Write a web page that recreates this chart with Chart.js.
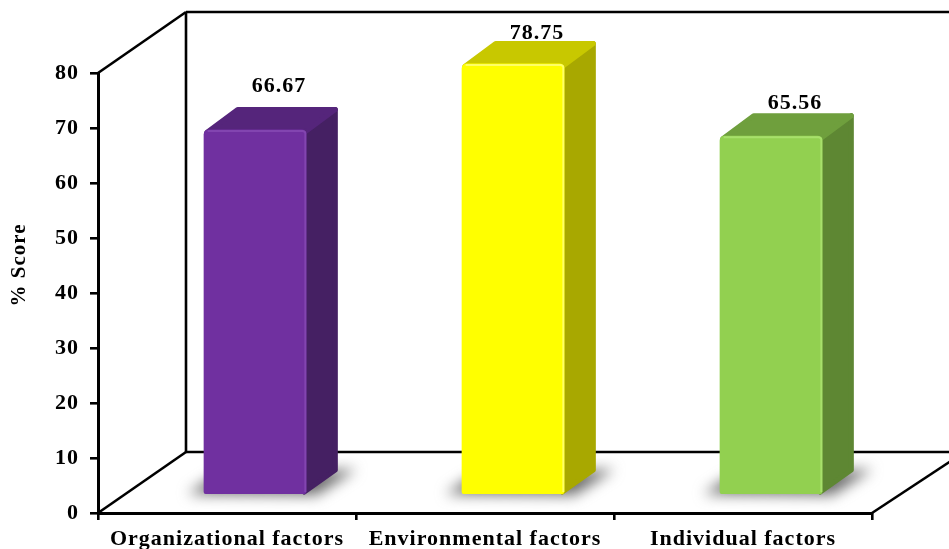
<!DOCTYPE html>
<html>
<head>
<meta charset="utf-8">
<style>
  html, body { margin: 0; padding: 0; background: #fff; }
  #wrap { width: 949px; height: 549px; }
</style>
<script src="https://cdn.jsdelivr.net/npm/chart.js@4"></script>
</head>
<body>
<div id="wrap"><canvas id="scoreChart" width="949" height="549"></canvas></div>
<script>
const categories = ['Organizational factors', 'Environmental factors', 'Individual factors'];
const scores = [66.67, 78.75, 65.56];
const scoreLabels = ['66.67', '78.75', '65.56'];
const yTicks = [0, 10, 20, 30, 40, 50, 60, 70, 80];
const frontColors = ['#7030a0', '#ffff00', '#92d050'];
const topColors = ['#55257b', '#c8c800', '#6f9f3d'];
const sideColors = ['#452063', '#a8a800', '#5e8733'];
const edgeColors = ['#8245b0', '#ffff66', '#a8e06c'];

// the walls of the 3d box
const wallX = 88, wallY = -61;
// bars stand part way into the box
const barShiftX = 28, barShiftY = -19;
const faceX = 32, faceY = -23;
const labelShiftX = 24, labelLift = [20, 7, 9];
const fontName = '"Liberation Serif", serif';

function line(ctx, x1, y1, x2, y2) {
  ctx.beginPath();
  ctx.moveTo(x1, y1);
  ctx.lineTo(x2, y2);
  ctx.stroke();
}

function poly(ctx, pts, color) {
  ctx.beginPath();
  pts.forEach((p, i) => i ? ctx.lineTo(p[0], p[1]) : ctx.moveTo(p[0], p[1]));
  ctx.closePath();
  ctx.fillStyle = color;
  ctx.strokeStyle = color;
  ctx.lineWidth = 5;
  ctx.lineJoin = 'round';
  ctx.fill();
  ctx.stroke();
}

const box3d = {
  id: 'box3d',
  beforeDraw(chart) {
    // the reference text runs a bit wide
    chart.ctx.letterSpacing = '1px';
  },
  beforeDatasetsDraw(chart) {
    const ctx = chart.ctx, a = chart.chartArea;
    const W = chart.width;
    const backX = a.left + wallX, backTop = a.top + wallY, backBottom = a.bottom + wallY;

    ctx.save();
    ctx.strokeStyle = '#000';
    ctx.lineWidth = 2.6;
    line(ctx, a.left, a.top, backX, backTop);
    line(ctx, a.left, a.bottom, backX, backBottom);
    line(ctx, backX, backTop, backX, backBottom);
    line(ctx, backX, backTop, W, backTop);
    line(ctx, backX, backBottom, W, backBottom);
    line(ctx, a.right, a.bottom, a.right + wallX, backBottom + 3);
    ctx.restore();

    // y axis title
    ctx.save();
    ctx.translate(20, 265);
    ctx.rotate(-Math.PI / 2);
    ctx.fillStyle = '#000';
    ctx.font = 'bold 21px ' + fontName;
    ctx.textAlign = 'center';
    ctx.textBaseline = 'middle';
    ctx.fillText('% Score', 0, 0);
    ctx.restore();

    const bars = chart.getDatasetMeta(0).data;

    // labels go first, the tall bar covers the foot of its label
    ctx.save();
    ctx.fillStyle = '#000';
    ctx.font = 'bold 22px ' + fontName;
    ctx.textAlign = 'center';
    ctx.textBaseline = 'middle';
    bars.forEach((b, i) => {
      ctx.fillText(scoreLabels[i], b.x + barShiftX + labelShiftX, b.y + barShiftY + faceY - labelLift[i]);
    });
    ctx.restore();

    bars.forEach((b, i) => {
      const l = b.x - b.width / 2 + barShiftX, r = b.x + b.width / 2 + barShiftX;
      const t = b.y + barShiftY, f = b.base + barShiftY;

      // floor shadow
      ctx.save();
      ctx.filter = 'blur(7px)';
      ctx.beginPath();
      ctx.moveTo(l - 16, f);
      ctx.lineTo(l + 8, f - 16);
      ctx.lineTo(r + faceX + 18, f + faceY - 2);
      ctx.lineTo(r + 10, f + 1);
      ctx.closePath();
      ctx.fillStyle = '#6a6a6a';
      ctx.fill();
      ctx.restore();

      ctx.save();
      poly(ctx, [[r - 2, t + 3], [r + faceX - 3, t + faceY + 3], [r + faceX - 3, f + faceY - 1], [r - 2, f - 2]], sideColors[i]);
      poly(ctx, [[l + 3, t + 3], [l + faceX + 2, t + faceY + 3], [r + faceX - 3, t + faceY + 3], [r - 2, t + 3]], topColors[i]);
      ctx.restore();
    });

    ctx.save();
    ctx.translate(barShiftX, barShiftY);
  },
  afterDatasetsDraw(chart) {
    const ctx = chart.ctx;
    ctx.restore();

    // light rim along the front face
    chart.getDatasetMeta(0).data.forEach((b, i) => {
      const l = b.x - b.width / 2 + barShiftX, r = b.x + b.width / 2 + barShiftX;
      const t = b.y + barShiftY, f = b.base + barShiftY;
      ctx.save();
      ctx.strokeStyle = edgeColors[i];
      ctx.lineWidth = 2;
      ctx.beginPath();
      ctx.moveTo(l + 4, t + 1.5);
      ctx.lineTo(r - 4, t + 1.5);
      ctx.quadraticCurveTo(r - 1, t + 1.5, r - 1, t + 4);
      ctx.lineTo(r - 1, f - 2);
      ctx.stroke();
      ctx.restore();
    });
  }
};

new Chart(document.getElementById('scoreChart'), {
  type: 'bar',
  data: {
    labels: categories,
    datasets: [{
      data: scores,
      yAxisID: 'yBar',
      backgroundColor: frontColors,
      borderWidth: 0,
      borderRadius: { topLeft: 5, topRight: 5, bottomLeft: 2, bottomRight: 2 },
      borderSkipped: false,
      barPercentage: 0.398,
      categoryPercentage: 1
    }]
  },
  plugins: [box3d],
  options: {
    responsive: false,
    animation: false,
    devicePixelRatio: 1,
    layout: { padding: { top: 73, right: 77, left: 0, bottom: 0 } },
    plugins: { legend: { display: false }, tooltip: { enabled: false } },
    scales: {
      x: {
        offset: true,
        grid: { offset: true, drawOnChartArea: false, color: '#000', lineWidth: 2.6, tickLength: 7 },
        border: { color: '#000', width: 3 },
        ticks: {
          color: '#000',
          padding: 6,
          maxRotation: 0,
          autoSkip: false,
          font: { family: fontName, size: 22, weight: 'bold' }
        },
        afterFit(s) { s.height = 36; }
      },
      y: {
        min: 0,
        max: 80,
        afterBuildTicks(s) { s.ticks = yTicks.map(v => ({ value: v })); },
        grid: { drawOnChartArea: false, color: '#000', lineWidth: 2.6, tickLength: 8 },
        border: { color: '#000', width: 3 },
        ticks: {
          color: '#000',
          padding: 11,
          z: 1,
          font: { family: fontName, size: 22, weight: 'bold' }
        },
        afterFit(s) { s.width = 98; }
      },
      // bars stand inside the box so their scale is slightly tighter than the front axis
      yBar: { display: false, min: 0, max: 80.5 }
    }
  }
});
</script>
</body>
</html>
